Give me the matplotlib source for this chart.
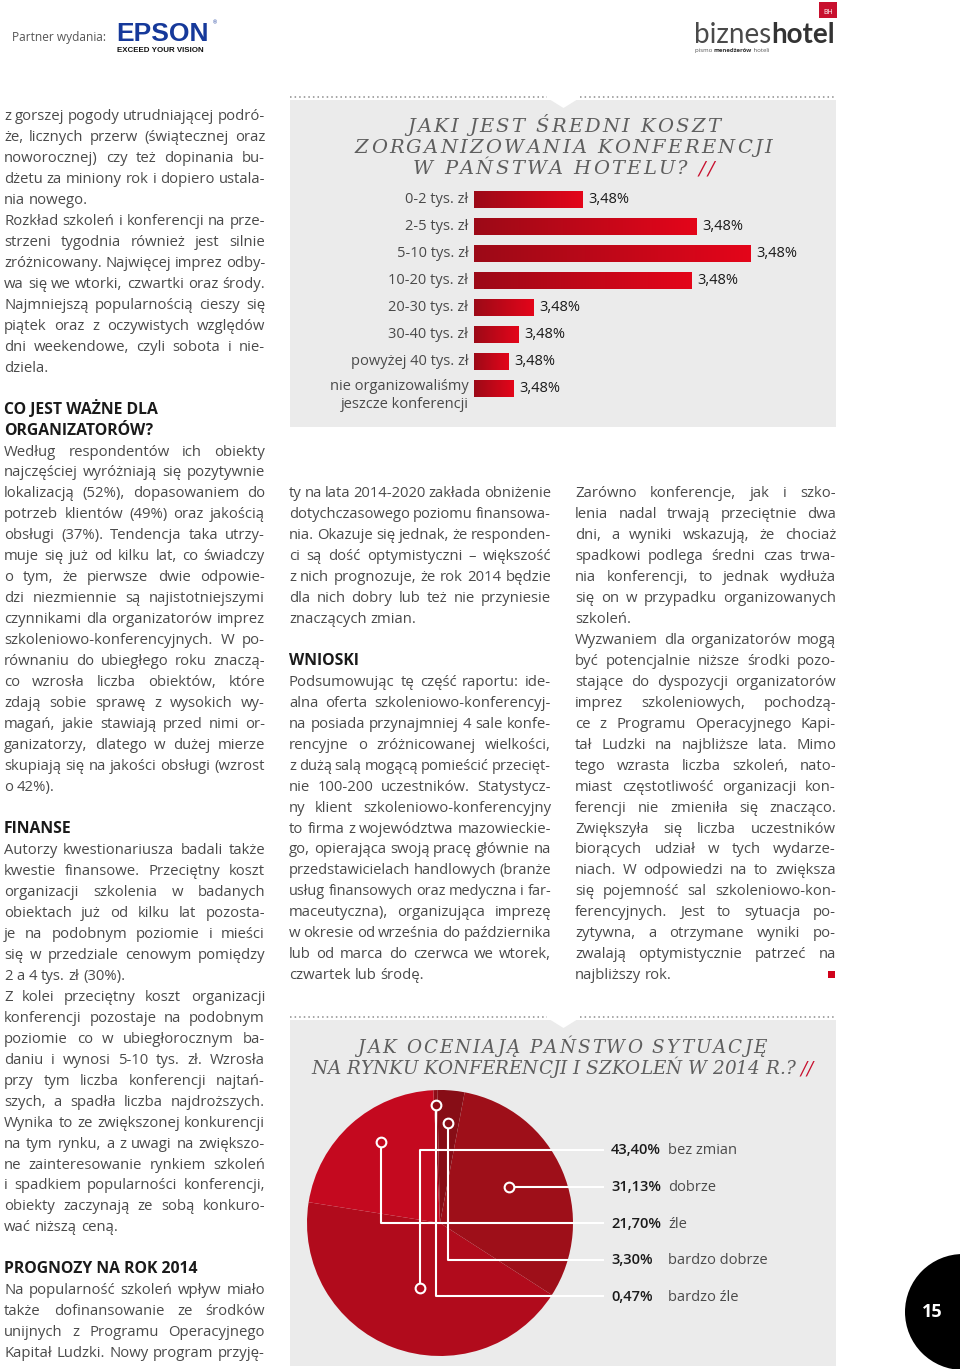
import numpy as np
import matplotlib
matplotlib.use("Agg")
import matplotlib.pyplot as plt
from matplotlib.colors import LinearSegmentedColormap
from matplotlib.patches import Rectangle, Polygon, Circle

# --- chart data ---
cost_ranges = ["0-2 tys. zł", "2-5 tys. zł", "5-10 tys. zł", "10-20 tys. zł",
               "20-30 tys. zł", "30-40 tys. zł", "powyżej 40 tys. zł",
               "nie organizowaliśmy\njeszcze konferencji"]
cost_share = [10.9, 22.3, 27.7, 21.8, 6.0, 4.5, 3.5, 4.0]
cost_labels = ["3,48%", "3,48%", "3,48%", "3,48%", "3,48%", "3,48%", "3,48%", "3,48%"]

rating_names = ["bez zmian", "dobrze", "źle", "bardzo dobrze", "bardzo źle"]
rating_share = [43.40, 31.13, 21.70, 3.30, 0.47]
rating_labels = ["43,40%", "31,13%", "21,70%", "3,30%", "0,47%"]

bar_title = ["JAKI JEST ŚREDNI KOSZT", "ZORGANIZOWANIA KONFERENCJI", "W PAŃSTWA HOTELU? //"]
pie_title = ["JAK OCENIAJĄ PAŃSTWO SYTUACJĘ", "NA RYNKU KONFERENCJI I SZKOLEŃ W 2014 R.? //"]

# --- article text ---
left_blocks = [
    ("p", ["z gorszej pogody utrudniającej podró-",
           "że, licznych przerw (świątecznej oraz",
           "noworocznej) czy też dopinania bu-",
           "dżetu za miniony rok i dopiero ustala-",
           "nia nowego."]),
    ("p", ["Rozkład szkoleń i konferencji na prze-",
           "strzeni tygodnia również jest silnie",
           "zróżnicowany. Najwięcej imprez odby-",
           "wa się we wtorki, czwartki oraz środy.",
           "Najmniejszą popularnością cieszy się",
           "piątek oraz z oczywistych względów",
           "dni weekendowe, czyli sobota i nie-",
           "dziela."]),
    ("gap", []),
    ("h", ["CO JEST WAŻNE DLA", "ORGANIZATORÓW?"]),
    ("p", ["Według respondentów ich obiekty",
           "najczęściej wyróżniają się pozytywnie",
           "lokalizacją (52%), dopasowaniem do",
           "potrzeb klientów (49%) oraz jakością",
           "obsługi (37%). Tendencja taka utrzy-",
           "muje się już od kilku lat, co świadczy",
           "o tym, że pierwsze dwie odpowie-",
           "dzi niezmiennie są najistotniejszymi",
           "czynnikami dla organizatorów imprez",
           "szkoleniowo-konferencyjnych. W po-",
           "równaniu do ubiegłego roku znaczą-",
           "co wzrosła liczba obiektów, które",
           "zdają sobie sprawę z wysokich wy-",
           "magań, jakie stawiają przed nimi or-",
           "ganizatorzy, dlatego w dużej mierze",
           "skupiają się na jakości obsługi (wzrost",
           "o 42%)."]),
    ("gap", []),
    ("h", ["FINANSE"]),
    ("p", ["Autorzy kwestionariusza badali także",
           "kwestie finansowe. Przeciętny koszt",
           "organizacji szkolenia w badanych",
           "obiektach już od kilku lat pozosta-",
           "je na podobnym poziomie i mieści",
           "się w przedziale cenowym pomiędzy",
           "2 a 4 tys. zł (30%)."]),
    ("p", ["Z kolei przeciętny koszt organizacji",
           "konferencji pozostaje na podobnym",
           "poziomie co w ubiegłorocznym ba-",
           "daniu i wynosi 5-10 tys. zł. Wzrosła",
           "przy tym liczba konferencji najtań-",
           "szych, a spadła liczba najdroższych.",
           "Wynika to ze zwiększonej konkurencji",
           "na tym rynku, a z uwagi na zwiększo-",
           "ne zainteresowanie rynkiem szkoleń",
           "i spadkiem popularności konferencji,",
           "obiekty zaczynają ze sobą konkuro-",
           "wać niższą ceną."]),
    ("gap", []),
    ("h", ["PROGNOZY NA ROK 2014"]),
    ("p+", ["Na popularność szkoleń wpływ miało",
            "także dofinansowanie ze środków",
            "unijnych z Programu Operacyjnego",
            "Kapitał Ludzki. Nowy program przyję-"]),
]

middle_blocks = [
    ("p", ["ty na lata 2014-2020 zakłada obniżenie",
           "dotychczasowego poziomu finansowa-",
           "nia. Okazuje się jednak, że responden-",
           "ci są dość optymistyczni – większość",
           "z nich prognozuje, że rok 2014 będzie",
           "dla nich dobry lub też nie przyniesie",
           "znaczących zmian."]),
    ("gap", []),
    ("h", ["WNIOSKI"]),
    ("p", ["Podsumowując tę część raportu: ide-",
           "alna oferta szkoleniowo-konferencyj-",
           "na posiada przynajmniej 4 sale konfe-",
           "rencyjne o zróżnicowanej wielkości,",
           "z dużą salą mogącą pomieścić przecięt-",
           "nie 100-200 uczestników. Statystycz-",
           "ny klient szkoleniowo-konferencyjny",
           "to firma z województwa mazowieckie-",
           "go, opierająca swoją pracę głównie na",
           "przedstawicielach handlowych (branże",
           "usług finansowych oraz medyczna i far-",
           "maceutyczna), organizująca imprezę",
           "w okresie od września do października",
           "lub od marca do czerwca we wtorek,",
           "czwartek lub środę."]),
]

right_blocks = [
    ("p", ["Zarówno konferencje, jak i szko-",
           "lenia nadal trwają przeciętnie dwa",
           "dni, a wyniki wskazują, że chociaż",
           "spadkowi podlega średni czas trwa-",
           "nia konferencji, to jednak wydłuża",
           "się on w przypadku organizowanych",
           "szkoleń."]),
    ("p", ["Wyzwaniem dla organizatorów mogą",
           "być potencjalnie niższe środki pozo-",
           "stające do dyspozycji organizatorów",
           "imprez szkoleniowych, pochodzą-",
           "ce z Programu Operacyjnego Kapi-",
           "tał Ludzki na najbliższe lata. Mimo",
           "tego wzrasta liczba szkoleń, nato-",
           "miast częstotliwość organizacji kon-",
           "ferencji nie zmieniła się znacząco.",
           "Zwiększyła się liczba uczestników",
           "biorących udział w tych wydarze-",
           "niach. W odpowiedzi na to zwiększa",
           "się pojemność sal szkoleniowo-kon-",
           "ferencyjnych. Jest to sytuacja po-",
           "zytywna, a otrzymane wyniki po-",
           "zwalają optymistycznie patrzeć na",
           "najbliższy rok."]),
]

# --- styles ---
SANS = ["Open Sans", "DejaVu Sans"]
SERIF = ["DejaVu Serif"]
RED = "#c8102e"
BODY = dict(family=SANS, fontsize=10.7, color="#4a4a4a")
HEAD = dict(family=SANS, fontweight="bold", fontsize=11.3, color="#1a1a1a")
TITLE = dict(family=SERIF, style="italic", color="#5e5e5e")
PANEL = "#ebebeb"
LEAD = 20.97

W, H = 960, 1369
fig = plt.figure(figsize=(W / 100, H / 100), dpi=100)
page = fig.add_axes([0, 0, 1, 1])
page.set_xlim(0, W)
page.set_ylim(H, 0)
page.axis("off")
renderer = fig.canvas.get_renderer()


def width_of(t):
    return t.get_window_extent(renderer=renderer).width


def space_width(**kw):
    a = page.text(0, 0, "n n", **kw)
    b = page.text(0, 0, "nn", **kw)
    s = width_of(a) - width_of(b)
    a.remove()
    b.remove()
    return s


SPACE = space_width(**BODY)


def put_words(x0, y, line, width, justify):
    words = line.split(" ")
    items = [page.text(x0, y, w, va="baseline", ha="left", **BODY) for w in words]
    sizes = [width_of(t) for t in items]
    min_gap = 0.8 * SPACE
    if justify and sum(sizes) + min_gap * (len(items) - 1) > width:
        # squeeze a too-long line slightly instead of crushing the spaces
        f = (width - min_gap * (len(items) - 1)) / sum(sizes)
        for t in items:
            t.set_fontsize(BODY["fontsize"] * f)
        sizes = [width_of(t) for t in items]
    gap = SPACE
    if justify and len(items) > 1:
        gap = (width - sum(sizes)) / (len(items) - 1)
    x = x0
    for t, s in zip(items, sizes):
        t.set_x(x)
        x += s + gap


def draw_column(x0, y0, width, blocks):
    y = y0
    for kind, lines in blocks:
        if kind == "gap":
            y += LEAD
            continue
        for i, line in enumerate(lines):
            if kind == "h":
                page.text(x0, y, line, va="baseline", **HEAD)
            else:
                last = kind == "p" and i == len(lines) - 1
                put_words(x0, y, line, width, not last)
            y += LEAD


def tracked(line, xc, y, track, size):
    # letter-spaced title line, "//" drawn in red
    kw = dict(TITLE, fontsize=size)
    sp = space_width(**kw)
    red_from = len(line) - 2 if line.endswith("//") else len(line)
    items, sizes = [], []
    for j, ch in enumerate(line):
        if ch == " ":
            items.append(None)
            sizes.append(sp)
            continue
        t = page.text(0, y, ch, va="baseline", **dict(kw, color=RED if j >= red_from else kw["color"]))
        items.append(t)
        sizes.append(width_of(t))
    total = sum(sizes) + track * (len(line) - 1)
    x = xc - total / 2
    for t, s in zip(items, sizes):
        if t is not None:
            t.set_x(x)
        x += s + track


def panel(top, bottom):
    page.add_patch(Rectangle((290, top + 3), 546, bottom - top - 3, color=PANEL, lw=0))
    page.add_patch(Polygon([(549, top + 2), (578, top + 2), (563.5, top + 11)], color="white", lw=0))
    for xa, xb in [(290, 547), (580, 834)]:
        page.plot([xa, xb], [top, top], color="#8c8c8c", lw=1.1, ls=(0, (1, 2)))


# --- header ---
page.text(12, 41, "Partner wydania:", family=SANS, fontsize=8.6, color="#555555")
page.text(116, 41, "EPSON", family=["Liberation Sans", "DejaVu Sans"], fontweight="bold",
          fontsize=19, color="#16399a", va="baseline")
page.text(213, 24, "®", family=["Liberation Sans", "DejaVu Sans"], fontsize=4, color="#16399a")
page.text(117, 52.5, "EXCEED YOUR VISION", family=["Liberation Sans", "DejaVu Sans"],
          fontweight="bold", fontsize=5.7, color="#111111", va="baseline")

b1 = page.text(694, 43, "biznes", family=["Lato", "DejaVu Sans"], fontsize=20,
               color="#4a4a4a", va="baseline")
b2 = page.text(0, 43, "hotel", family=["Lato", "DejaVu Sans"], fontweight="bold",
               fontsize=20, color="#333333", va="baseline")
b2.set_x(694 + width_of(b1))
page.add_patch(Rectangle((819, 2), 18, 16, color=RED, lw=0))
page.text(828, 12, "BH", family=SANS, fontsize=5, color="white", ha="center", va="center")
s1 = page.text(695, 52, "pismo ", family=SANS, fontsize=4.3, color="#555555", va="baseline")
s2 = page.text(0, 52, "menedżerów", family=SANS, fontweight="bold", fontsize=4.3, color="#333333", va="baseline")
s2.set_x(695 + width_of(s1))
s3 = page.text(0, 52, " hoteli", family=SANS, fontsize=4.3, color="#555555", va="baseline")
s3.set_x(695 + width_of(s1) + width_of(s2))

# --- text columns ---
draw_column(4, 120, 261, left_blocks)
draw_column(289, 497, 262, middle_blocks)
draw_column(575, 497, 261, right_blocks)
page.add_patch(Rectangle((828, 971), 7, 7, color="#d0021b", lw=0))

# --- bar chart panel ---
panel(97, 427)
for i, line in enumerate(bar_title):
    tracked(line, 563.5, 132 + 21 * i, 2.3, 14)

bx0, bx1, by0, by1 = 474, 836, 185.8, 401.8
axb = fig.add_axes([bx0 / W, 1 - by1 / H, (bx1 - bx0) / W, (by1 - by0) / H])
axb.patch.set_alpha(0)
rows = np.arange(len(cost_ranges))
bars = axb.barh(rows, cost_share, height=0.62, color="#c8081c", lw=0)
grad = np.linspace(0, 1, 256).reshape(1, -1)
cmap = LinearSegmentedColormap.from_list("bar", ["#9c0a17", "#e4051a"])
for b in bars:
    im = axb.imshow(grad, cmap=cmap, aspect="auto", zorder=3,
                    extent=[b.get_x(), b.get_x() + b.get_width(),
                            b.get_y() + b.get_height(), b.get_y()])
    im.set_clip_path(b)
for i, (cat, val, lab) in enumerate(zip(cost_ranges, cost_share, cost_labels)):
    yy = i + 0.28 if "\n" in cat else i
    axb.text(-0.55, yy, cat, ha="right", va="center", family=SANS,
             fontsize=10.5, color="#4a4a4a", linespacing=1.25)
    axb.text(val + 0.5, i, lab, ha="left", va="center", family=SANS,
             fontsize=10.5, color="#1a1a1a")
axb.set_xlim(0, (bx1 - bx0) / 10.0)
axb.set_ylim(len(rows) - 0.5, -0.5)
axb.axis("off")

# --- pie chart panel ---
panel(1017, 1366)
tracked(pie_title[0], 562, 1053, 2.0, 13.2)
tracked(pie_title[1], 562, 1074, 0.0, 13.2)

px0, px1, py0, py1 = 290, 836, 1085, 1369
cx, cy, R = 440, 1223, 133
axp = fig.add_axes([px0 / W, 1 - py1 / H, (px1 - px0) / W, (py1 - py0) / H])
axp.patch.set_alpha(0)
rating_colors = ["#b10b1c", "#9e0f19", "#c4091f", "#870d16", "#8e0d17"]
order = [0, 1, 3, 4, 2]
wedges, _ = axp.pie([rating_share[k] for k in order],
                    colors=[rating_colors[k] for k in order],
                    startangle=171, counterclock=True, radius=1,
                    wedgeprops=dict(linewidth=0))
marker_r = [0.51, 0.585, 0.75, 0.755, 0.89]
marker_shift = [4, 4, -6, 0, 0]
line_end = (603 - cx) / R
for k in range(len(rating_names)):
    w = wedges[order.index(k)]
    ang = np.deg2rad((w.theta1 + w.theta2) / 2 + marker_shift[k])
    mx, my = marker_r[k] * np.cos(ang), marker_r[k] * np.sin(ang)
    yr = (cy - 1150 - 36.6 * k) / R
    axp.plot([line_end, mx, mx], [yr, yr, my], color="white", lw=1.5, zorder=4)
    axp.plot(mx, my, "o", ms=7, mfc=rating_colors[k], mec="white", mew=1.5, zorder=5)
    axp.text((611 - cx) / R, yr - 4.5 / R, rating_labels[k], va="baseline", ha="left",
             family=SANS, fontweight="semibold", fontsize=10.5, color="#1a1a1a")
    axp.text((668 - cx) / R, yr - 4.5 / R, rating_names[k], va="baseline", ha="left",
             family=SANS, fontsize=10.5, color="#4a4a4a")
axp.set_xlim((px0 - cx) / R, (px1 - cx) / R)
axp.set_ylim((cy - py1) / R, (cy - py0) / R)
axp.set_aspect("auto")
axp.axis("off")

# --- page number ---
page.add_patch(Circle((963, 1312), 58, color="black", lw=0))
page.text(932, 1312, "15", family=SANS, fontweight="bold", fontsize=13, color="white",
          ha="center", va="center")

fig.savefig("out.png", dpi=100)
